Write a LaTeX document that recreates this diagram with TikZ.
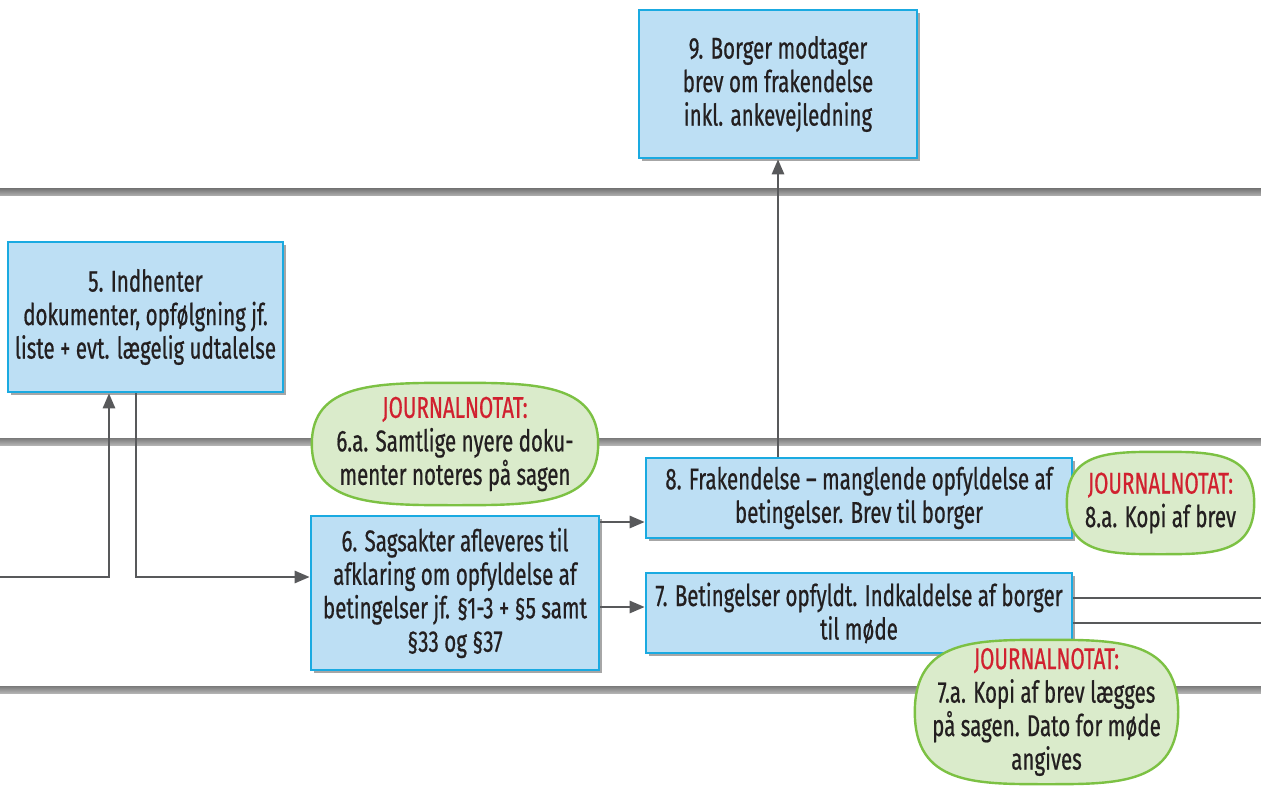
\documentclass[tikz,border=0pt]{standalone}
\usepackage{fontspec}
\setmainfont{Fira Sans}[FakeStretch=0.685,FakeBold=0.6]
\usetikzlibrary{shadows,arrows.meta,calc}
\definecolor{boxfill}{HTML}{BDDFF4}
\definecolor{boxline}{HTML}{1AAAE1}
\definecolor{notefill}{HTML}{DAEBCB}
\definecolor{noteline}{HTML}{7CC143}
\definecolor{jred}{HTML}{D1202F}
\definecolor{arrgray}{HTML}{58595B}
\definecolor{txt}{HTML}{231F20}
\pgfdeclarelayer{notebg}
\pgfdeclarelayer{notefg}
\pgfsetlayers{main,notebg,notefg}
\tikzset{
  stepbox/.style={draw=boxline, line width=2.6pt, fill=boxfill, text=txt, align=center,
    font=\fontsize{30}{33.5}\selectfont, inner sep=0pt,
    drop shadow={shadow xshift=3pt, shadow yshift=-3pt, opacity=0.35, fill=black}},
  notebox/.style={draw=none, text=txt, align=center, inner sep=0pt,
    font=\fontsize{30}{33.5}\selectfont},
  noteshape/.style={draw=noteline, line width=2.4pt, fill=notefill},
  arr/.style={draw=arrgray, line width=2.6pt, -{Triangle[length=15pt,width=12pt]}},
  conn/.style={draw=arrgray, line width=2.6pt},
  lane/.style={top color=black!52, bottom color=black!30, draw=none}
}
\newcommand{\drawnote}[1]{%
  \path[noteshape] (#1.west) .. controls (#1.north west) and ($(#1.north)!0.55!(#1.north west)$) .. (#1.north)
    .. controls ($(#1.north)!0.55!(#1.north east)$) and (#1.north east) .. (#1.east)
    .. controls (#1.south east) and ($(#1.south)!0.55!(#1.south east)$) .. (#1.south)
    .. controls ($(#1.south)!0.55!(#1.south west)$) and (#1.south west) .. cycle;}
\begin{document}
\begin{tikzpicture}[x=1pt,y=-1pt]
\useasboundingbox[fill=white] (0,0) rectangle (1261,786);
% swim-lane separators
\shade[lane] (0,189) rectangle (1261,196);
\shade[lane] (0,438) rectangle (1261,445);
\shade[lane] (0,686) rectangle (1261,693);
% boxes
\node[stepbox, minimum width=278, minimum height=148] (b9) at (778,84)
  {9. Borger modtager\\brev om frakendelse\\inkl. ankevejledning};
\node[stepbox, minimum width=275, minimum height=150] (b5) at (145.5,317)
  {5. Indhenter\\dokumenter, opfølgning jf.\\liste + evt. lægelig udtalelse};
\node[stepbox, minimum width=288, minimum height=154] (b6) at (455,593)
  {6. Sagsakter afleveres til\\afklaring om opfyldelse af\\betingelser jf. §1-3 + §5 samt\\§33 og §37};
\node[stepbox, minimum width=426, minimum height=80] (b8) at (859,498)
  {8. Frakendelse – manglende opfyldelse af\\betingelser. Brev til borger};
\node[stepbox, minimum width=426, minimum height=80] (b7) at (859,613)
  {7. Betingelser opfyldt. Indkaldelse af borger\\til møde};
% connectors
\coordinate (in1) at (0,577);
\coordinate (o1) at (1261,598);
\coordinate (o2) at (1261,623);
\coordinate (a8) at ([yshift=-24pt]b8.west);
\coordinate (a7) at ([yshift=6pt]b7.west);
\draw[arr] (in1) -| ([xshift=-36.5pt]b5.south);
\draw[arr] ([xshift=-9.5pt]b5.south) |- ([yshift=16pt]b6.west);
\draw[arr] (b6.east |- a8) -- (a8);
\draw[arr] (b6.east |- a7) -- (a7);
\draw[arr] (b8.north -| b9.south) -- (b9.south);
\draw[conn] (b7.east |- o1) -- (o1);
\draw[conn] (b7.east |- o2) -- (o2);
% notes
\begin{pgfonlayer}{notefg}
\node[notebox, minimum width=286, minimum height=122] (n6a) at (455,444)
  {\textcolor{jred}{JOURNALNOTAT:}\\6.a. Samtlige nyere doku-\\menter noteres på sagen};
\node[notebox, minimum width=187, minimum height=102] (n8a) at (1160.5,503)
  {\textcolor{jred}{JOURNALNOTAT:}\\8.a. Kopi af brev};
\node[notebox, minimum width=263, minimum height=144] (n7a) at (1046.5,712)
  {\textcolor{jred}{JOURNALNOTAT:}\\7.a. Kopi af brev lægges\\på sagen. Dato for møde\\angives};
\end{pgfonlayer}
\begin{pgfonlayer}{notebg}
\drawnote{n6a}
\drawnote{n8a}
\drawnote{n7a}
\end{pgfonlayer}
\end{tikzpicture}
\end{document}
